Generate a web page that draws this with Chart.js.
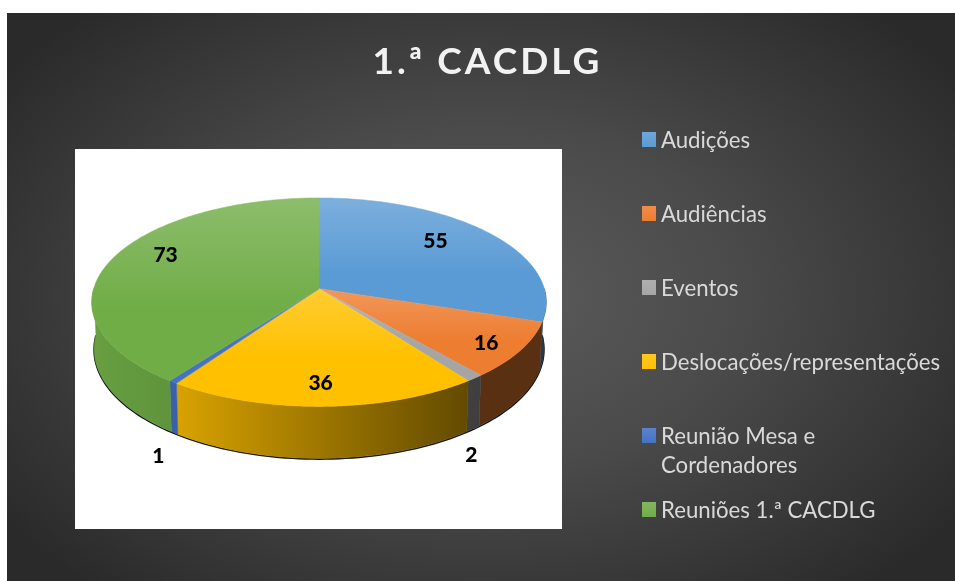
<!DOCTYPE html>
<html>
<head>
<meta charset="utf-8">
<title>1.ª CACDLG</title>
<script src="https://cdn.jsdelivr.net/npm/chart.js@4"></script>
<style>
  html, body { margin: 0; background: #fff; overflow: hidden; }
  #panel {
    position: absolute; left: 7px; top: 13px; width: 948px; height: 568px;
    background: radial-gradient(ellipse 62% 68% at 50% 50%, #5c5c5c 0%, #4a4a4a 45%, #2a2a2a 100%);
  }
  #plot { position: absolute; left: 75px; top: 149px; width: 487px; height: 380px; background: #fff; }
  canvas { position: absolute; left: 0; top: 0; }
  #legend {
    position: absolute; left: 642px; top: 125px; margin: 0; padding: 0; list-style: none;
    font: 22.2px/29px Lato, sans-serif; color: #d9d9d9;
  }
  #legend li { height: 74px; padding-left: 19px; position: relative; white-space: pre; }
  #legend i { position: absolute; left: 0; top: 7px; width: 14px; height: 15px; }
</style>
</head>
<body>
<div id="panel"></div>
<div id="plot"></div>
<canvas id="chart" width="955" height="581"></canvas>
<ul id="legend"></ul>
<script>
const chartTitle = "1.ª CACDLG";
const categories = ["Audições", "Audiências", "Eventos", "Deslocações/representações", "Reunião Mesa e\nCordenadores", "Reuniões 1.ª CACDLG"];
const values = [55, 16, 2, 36, 1, 73];
const colors = ["#5b9bd5", "#ed7d31", "#a5a5a5", "#ffc000", "#4472c4", "#70ad47"];

// where each number sits: fraction of the radius along the slice middle, then a nudge in px
const labelRadius = [0.67, 0.84, 0.982, 0.825, 1.089, 0.733];
const labelNudge = [[0, -9], [0, 3], [0, 79], [-2, 0], [0, 65], [-1, -11]];

// the view of the disc: squash, perspective and thickness
const squash = 0.455, persp = 0.129, depthBase = 46, depthFront = 6, bottomShrink = 0.99;

function project(arc, angle, r = 1) {
  const u = Math.cos(angle) * r, v = Math.sin(angle) * r;
  const w = 1 - persp * v;
  return { x: arc.x + arc.outerRadius * u / w, y: arc.y + arc.outerRadius * squash * v / w };
}

function projectBottom(arc, angle) {
  const p = project(arc, angle);
  return { x: arc.x + (p.x - arc.x) * bottomShrink, y: p.y + depthBase + depthFront * Math.sin(angle) };
}

function shade(hex, f) {
  const n = parseInt(hex.slice(1), 16);
  const ch = (c) => Math.round(f <= 1 ? c * f : c + (255 - c) * (f - 1));
  return `rgb(${ch(n >> 16)},${ch((n >> 8) & 255)},${ch(n & 255)})`;
}

const pie3d = {
  id: "pie3d",
  afterLayout(chart) {
    // title is centred over the whole panel, not over the pie
    const t = chart.titleBlock;
    t.left = 20; t.right = 955; t.top = 40; t.bottom = 83;
  },
  beforeDraw(chart) {
    chart.ctx.letterSpacing = "3px";
  },
  beforeDatasetsDraw(chart) {
    const ctx = chart.ctx;
    ctx.letterSpacing = "0px";
    const arcs = chart.getDatasetMeta(0).data;
    const first = arcs[0];
    const left = first.x - first.outerRadius, right = first.x + first.outerRadius;
    const steps = (a, b) => Math.max(2, Math.ceil((b - a) * 60));

    // shadow line under the rim
    ctx.save();
    ctx.beginPath();
    for (let i = 0; i <= 120; i++) {
      const p = projectBottom(first, Math.PI * i / 120);
      if (i) ctx.lineTo(p.x, p.y + 0.7); else ctx.moveTo(p.x, p.y + 0.7);
    }
    ctx.strokeStyle = "#111";
    ctx.lineWidth = 1.6;
    ctx.stroke();
    ctx.restore();

    // side wall
    arcs.forEach((arc, i) => {
      const a0 = Math.max(arc.startAngle, 0), a1 = Math.min(arc.endAngle, Math.PI);
      if (a1 <= a0) return;
      const g = ctx.createLinearGradient(left, 0, right, 0);
      g.addColorStop(0, shade(colors[i], 0.92));
      g.addColorStop(0.18, shade(colors[i], 0.85));
      g.addColorStop(0.5, shade(colors[i], 0.62));
      g.addColorStop(0.84, shade(colors[i], 0.38));
      g.addColorStop(1, shade(colors[i], 0.38));
      ctx.beginPath();
      const n = steps(a0, a1);
      for (let s = 0; s <= n; s++) {
        const p = project(arc, a0 + (a1 - a0) * s / n);
        if (s) ctx.lineTo(p.x, p.y); else ctx.moveTo(p.x, p.y);
      }
      for (let s = n; s >= 0; s--) {
        const p = projectBottom(arc, a0 + (a1 - a0) * s / n);
        ctx.lineTo(p.x, p.y);
      }
      ctx.closePath();
      ctx.fillStyle = g;
      ctx.strokeStyle = g;
      ctx.lineWidth = 0.5;
      ctx.fill();
      ctx.stroke();
    });

    // top face, each slice from the arc element the controller computed
    arcs.forEach((arc, i) => {
      const n = steps(arc.startAngle, arc.endAngle);
      const rim = [];
      for (let s = 0; s <= n; s++) rim.push(project(arc, arc.startAngle + (arc.endAngle - arc.startAngle) * s / n));
      const ys = rim.map(p => p.y).concat(arc.y);
      const g = ctx.createLinearGradient(0, Math.min(...ys), 0, Math.max(...ys));
      g.addColorStop(0, shade(colors[i], 1.2));
      g.addColorStop(0.6, shade(colors[i], 1));
      g.addColorStop(1, shade(colors[i], 1));
      ctx.beginPath();
      ctx.moveTo(arc.x, arc.y);
      rim.forEach(p => ctx.lineTo(p.x, p.y));
      ctx.closePath();
      ctx.fillStyle = g;
      ctx.strokeStyle = g;
      ctx.lineWidth = 0.5;
      ctx.fill();
      ctx.stroke();
    });

    // value labels
    ctx.font = "900 21px Lato, sans-serif";
    ctx.fillStyle = "#000";
    ctx.textAlign = "center";
    ctx.textBaseline = "middle";
    arcs.forEach((arc, i) => {
      const p = project(arc, (arc.startAngle + arc.endAngle) / 2, labelRadius[i]);
      ctx.fillText(String(values[i]), p.x + labelNudge[i][0], p.y + labelNudge[i][1]);
    });
    return false;
  },
};

new Chart(document.getElementById("chart"), {
  type: "pie",
  data: { labels: categories, datasets: [{ data: values, backgroundColor: colors, borderWidth: 0 }] },
  options: {
    responsive: false,
    animation: false,
    layout: { padding: { left: 93, right: 410, top: 19, bottom: 67 } },
    plugins: {
      legend: { display: false },
      tooltip: { enabled: false },
      title: {
        display: true,
        text: chartTitle,
        color: "#f2f2f2",
        font: { family: "Lato, sans-serif", size: 37, weight: "bold", lineHeight: 1.2 },
        padding: 0,
      },
    },
  },
  plugins: [pie3d],
});

// legend list next to the chart
const legendEl = document.getElementById("legend");
categories.forEach((name, i) => {
  const li = document.createElement("li");
  const box = document.createElement("i");
  box.style.background = `linear-gradient(${shade(colors[i], 1.12)}, ${colors[i]})`;
  li.appendChild(box);
  li.appendChild(document.createTextNode(name));
  legendEl.appendChild(li);
});
</script>
</body>
</html>
